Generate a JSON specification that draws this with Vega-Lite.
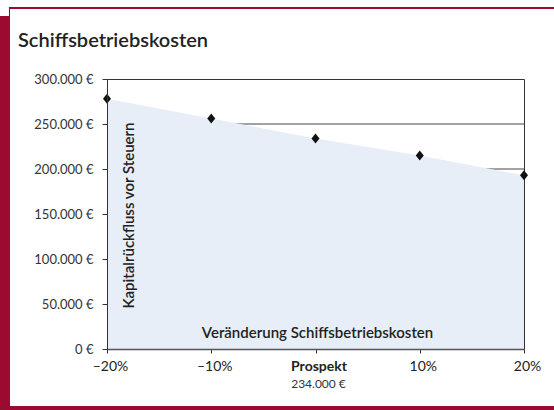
{
  "$schema": "https://vega.github.io/schema/vega-lite/v6.json",
  "padding": {"left": 0, "top": 7, "right": 0, "bottom": 0},
  "autosize": {"type": "pad"},
  "background": "white",
  "config": {
    "view": {"stroke": null},
    "font": "Lato"
  },
  "datasets": {
    "kosten": [
      {"schritt": -20, "wert": 278000},
      {"schritt": -10, "wert": 256000},
      {"schritt": 0, "wert": 234000, "notiz": "234.000 €"},
      {"schritt": 10, "wert": 215000},
      {"schritt": 20, "wert": 193000}
    ],
    "raster": [
      {"g": 0}, {"g": 50000}, {"g": 100000}, {"g": 150000}, {"g": 200000}, {"g": 250000}
    ]
  },
  "columns": 5,
  "align": "each",
  "bounds": "flush",
  "spacing": 0,
  "concat": [
    {"width": 9, "height": 2, "data": {"values": []}, "mark": "point"},
    {"width": 1, "height": 2, "data": {"values": []}, "mark": "point", "view": {"fill": "#9c0a31"}},
    {"width": 97, "height": 2, "data": {"values": []}, "mark": "point", "view": {"fill": "#9c0a31"}},
    {"width": 417, "height": 2, "data": {"values": []}, "mark": "point", "view": {"fill": "#9c0a31"}},
    {"width": 30, "height": 2, "data": {"values": []}, "mark": "point", "view": {"fill": "#9c0a31"}},

    {"width": 9, "height": 7, "data": {"values": []}, "mark": "point"},
    {"width": 1, "height": 7, "data": {"values": []}, "mark": "point", "view": {"fill": "#9c0a31"}},
    {"width": 97, "height": 7, "data": {"values": []}, "mark": "point"},
    {"width": 417, "height": 7, "data": {"values": []}, "mark": "point"},
    {"width": 30, "height": 7, "data": {"values": []}, "mark": "point"},

    {"width": 9, "height": 63, "data": {"values": []}, "mark": "point", "view": {"fill": "#9c0a31"}},
    {"width": 1, "height": 63, "data": {"values": []}, "mark": "point", "view": {"fill": "#9c0a31"}},
    {"width": 97, "height": 63, "data": {"values": []}, "mark": "point"},
    {"width": 417, "height": 63, "data": {"values": []}, "mark": "point"},
    {"width": 30, "height": 63, "data": {"values": []}, "mark": "point"},

    {"width": 9, "height": 270, "data": {"values": []}, "mark": "point", "view": {"fill": "#9c0a31"}},
    {"width": 1, "height": 270, "data": {"values": []}, "mark": "point", "view": {"fill": "#9c0a31"}},
    {"width": 97, "height": 270, "data": {"values": []}, "mark": "point"},
    {
      "width": 417,
      "height": 270,
      "view": {"stroke": "#333", "strokeWidth": 1},
      "title": {
        "text": "Schiffsbetriebskosten",
        "anchor": "start",
        "frame": "group",
        "dx": -89,
        "offset": 22,
        "fontSize": 20,
        "fontWeight": 600,
        "color": "#222",
        "font": "Lato"
      },
      "layer": [
        {
          "data": {"name": "raster"},
          "mark": {"type": "rule", "color": "#444", "strokeWidth": 1},
          "encoding": {
            "y": {"field": "g", "type": "quantitative", "title": "Kapitalrückfluss vor Steuern"}
          }
        },
        {
          "data": {"name": "kosten"},
          "mark": {"type": "area", "color": "#e7eef7", "opacity": 1},
          "encoding": {
            "x": {
              "field": "schritt",
              "type": "quantitative",
              "scale": {"domain": [-20, 20], "nice": false, "zero": false},
              "title": "Veränderung Schiffsbetriebskosten",
              "axis": {
                "zindex": 1,
                "values": [-20, -10, 0, 10, 20],
                "labelExpr": "datum.value == 0 ? 'Prospekt' : ((datum.value < 0 ? '–' + abs(datum.value) : '' + datum.value) + '%')",
                "grid": false,
                "domainColor": "#555",
                "domainWidth": 1.5,
                "tickColor": "#333",
                "tickSize": 4,
                "labelPadding": 6,
                "labelOffset": 3,
                "labelFontSize": 14,
                "labelFont": "Lato",
                "labelColor": "#222",
                "labelFontWeight": {"condition": {"test": "datum.value == 0", "value": 700}, "value": 400},
                "labelFlush": false,
                "labelOverlap": false,
                "titleX": 210,
                "titleY": -12,
                "titleAlign": "center",
                "titleBaseline": "alphabetic",
                "titleFontSize": 15,
                "titleFontWeight": 600,
                "titleColor": "#222",
                "titleFont": "Lato"
              }
            },
            "y": {
              "field": "wert",
              "type": "quantitative",
              "scale": {"domain": [0, 300000], "nice": false},
              "title": "Kapitalrückfluss vor Steuern",
              "axis": {
                "zindex": 1,
                "values": [0, 50000, 100000, 150000, 200000, 250000, 300000],
                "labelExpr": "replace(format(datum.value, ','), ',', '.') + ' €'",
                "grid": false,
                "domainColor": "#333",
                "tickColor": "#333",
                "tickSize": 5,
                "labelPadding": 9,
                "labelFontSize": 13,
                "labelFont": "Lato",
                "labelColor": "#333",
                "titleX": 26,
                "titleY": 136,
                "titleAngle": -90,
                "titleAlign": "center",
                "titleBaseline": "alphabetic",
                "titleFontSize": 15,
                "titleFontWeight": 600,
                "titleColor": "#222",
                "titleFont": "Lato"
              }
            }
          }
        },
        {
          "data": {"name": "kosten"},
          "mark": {
            "type": "point",
            "shape": "M0,-1.25L1,0L0,1.25L-1,0Z",
            "filled": true,
            "color": "#111",
            "size": 64,
            "opacity": 1
          },
          "encoding": {
            "x": {"field": "schritt", "type": "quantitative", "title": "Veränderung Schiffsbetriebskosten"},
            "y": {"field": "wert", "type": "quantitative", "title": "Kapitalrückfluss vor Steuern"}
          }
        },
        {
          "data": {"name": "kosten"},
          "transform": [{"filter": "isValid(datum.notiz)"}],
          "mark": {"type": "text", "dy": 39, "dx": 3, "baseline": "alphabetic", "align": "center", "fontSize": 12, "color": "#333", "font": "Lato"},
          "encoding": {
            "x": {"field": "schritt", "type": "quantitative", "title": "Veränderung Schiffsbetriebskosten"},
            "y": {"datum": 0, "type": "quantitative", "title": "Kapitalrückfluss vor Steuern"},
            "text": {"field": "notiz"}
          }
        }
      ]
    },
    {"width": 30, "height": 270, "data": {"values": []}, "mark": "point"},

    {"width": 9, "height": 57, "data": {"values": []}, "mark": "point", "view": {"fill": "#9c0a31"}},
    {"width": 1, "height": 57, "data": {"values": []}, "mark": "point", "view": {"fill": "#9c0a31"}},
    {"width": 97, "height": 57, "data": {"values": []}, "mark": "point"},
    {"width": 417, "height": 57, "data": {"values": []}, "mark": "point"},
    {"width": 30, "height": 57, "data": {"values": []}, "mark": "point"},

    {"width": 9, "height": 4, "data": {"values": []}, "mark": "point", "view": {"fill": "#9c0a31"}},
    {"width": 1, "height": 4, "data": {"values": []}, "mark": "point", "view": {"fill": "#9c0a31"}},
    {"width": 97, "height": 4, "data": {"values": []}, "mark": "point", "view": {"fill": "#9c0a31"}},
    {"width": 417, "height": 4, "data": {"values": []}, "mark": "point", "view": {"fill": "#9c0a31"}},
    {"width": 30, "height": 4, "data": {"values": []}, "mark": "point", "view": {"fill": "#9c0a31"}}
  ]
}
